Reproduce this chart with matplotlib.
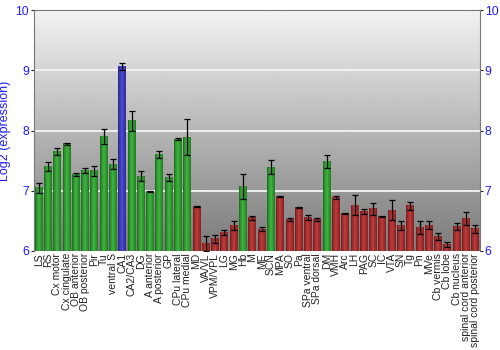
import matplotlib
matplotlib.use("Agg")
import matplotlib.pyplot as plt
import numpy as np

plt.rcParams["font.family"] = ["Liberation Sans", "DejaVu Sans"]

regions = ["LS", "RS", "Cx motor", "Cx cingulate", "OB anterior", "OB posterior",
           "Pir", "Tu", "ventral S", "CA1", "CA2/CA3", "DG", "A anterior",
           "A posterior", "GP", "CPu lateral", "CPu medial", "MD", "VA/VL",
           "VPM/VPL", "LG", "MG", "Hb", "M", "ME", "SCN", "MPA", "SO", "Pa",
           "SPa ventral", "SPa dorsal", "DM", "VMH", "Arc", "LH", "PAG", "SC",
           "IC", "VTA", "SN", "Tg", "Pn", "MVe", "Cb vermis", "Cb lobe",
           "Cb nucleus", "spinal cord anterior", "spinal cord posterior"]
values = [7.05, 7.40, 7.65, 7.78, 7.27, 7.34, 7.33, 7.90, 7.44, 9.07, 8.16,
          7.24, 6.99, 7.60, 7.22, 7.86, 7.89, 6.74, 6.13, 6.20, 6.31, 6.43,
          7.07, 6.55, 6.36, 7.39, 6.90, 6.52, 6.72, 6.56, 6.52, 7.48, 6.89,
          6.62, 6.76, 6.65, 6.70, 6.57, 6.68, 6.42, 6.75, 6.39, 6.43, 6.24,
          6.11, 6.41, 6.54, 6.37]
errors = [0.08, 0.07, 0.06, 0.02, 0.03, 0.04, 0.08, 0.13, 0.08, 0.06, 0.17,
          0.08, 0.01, 0.06, 0.06, 0.02, 0.30, 0.005, 0.125, 0.06, 0.045, 0.075,
          0.21, 0.03, 0.03, 0.12, 0.01, 0.03, 0.01, 0.045, 0.03, 0.11, 0.03,
          0.01, 0.17, 0.04, 0.10, 0.01, 0.17, 0.08, 0.07, 0.105, 0.06, 0.065,
          0.04, 0.06, 0.11, 0.065]
# g = green, b = blue, r = red
groups = "ggggggggg" + "b" + "ggggggg" + "rrrrr" + "g" + "rr" + "g" + "rrrrr" + "g" + "rrrrrrrrrrrrrrrr"

base_colors = {"g": (0.20, 0.64, 0.20), "b": (0.25, 0.25, 0.76), "r": (0.68, 0.19, 0.19)}

fig = plt.figure(figsize=(5, 3.5), dpi=100)
ax = fig.add_axes([0.068, 0.283, 0.892, 0.688])

ymin, ymax = 6, 10
n = len(regions)
xs = np.arange(n)
ax.set_xlim(-0.5, n - 0.5)
ax.set_ylim(ymin, ymax)

# background gradient
bg = np.linspace(0.48, 0.95, 256).reshape(-1, 1)
ax.imshow(bg, cmap="gray", vmin=0, vmax=1, aspect="auto", origin="lower",
          extent=(-0.5, n - 0.5, ymin, ymax), zorder=0)

for yv in [7, 8, 9]:
    ax.axhline(yv, color="#f4f4f4", lw=1.3, zorder=1)

# bars with horizontal shading
w = 0.86
shade = np.array([0.7, 0.88, 0.97, 1.0, 1.0, 0.97, 0.9, 0.78])
for x, v, g in zip(xs, values, groups):
    c = np.array(base_colors[g])
    img = np.clip(c[None, :] * shade[:, None] + (shade[:, None] > 0.99) * 0.04, 0, 1)
    ax.imshow(img[None, :, :], aspect="auto",
              extent=(x - w / 2, x + w / 2, ymin, v), zorder=2, interpolation="bilinear")

ax.errorbar(xs, values, yerr=errors, fmt="none", ecolor="black", elinewidth=0.9,
            capsize=2.2, capthick=0.9, zorder=3)

ax.set_xticks(xs)
ax.set_xticklabels(regions, rotation=90, fontsize=7.5, color="#222222")
ax.tick_params(axis="x", length=0, pad=1.5)
ax.set_yticks([6, 7, 8, 9, 10])
ax.tick_params(axis="y", colors="#222222", labelcolor="#1a1aff", labelsize=8.8,
               length=2.5, pad=1, right=True, labelright=True)
ax.set_ylabel("Log2 (expression)", color="#1a1aff", fontsize=9, labelpad=3)

for s in ["top", "left", "right"]:
    ax.spines[s].set_color("#777777")
ax.spines["bottom"].set_visible(False)

fig.savefig("out.png", dpi=100)
